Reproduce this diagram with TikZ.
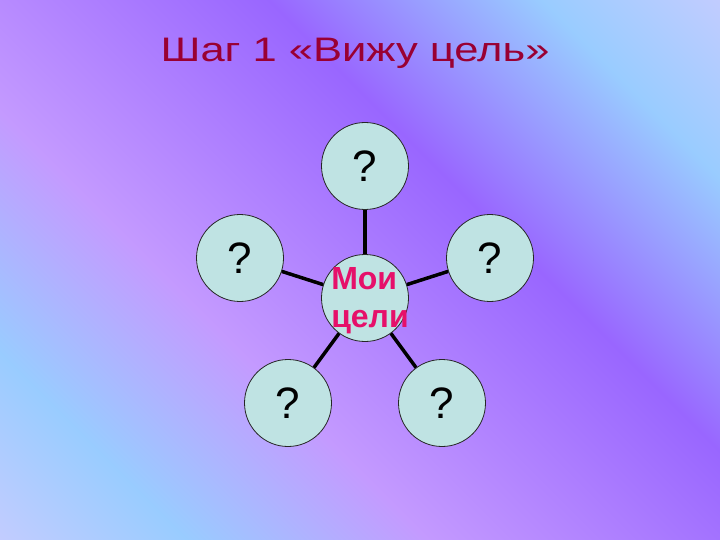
\documentclass[tikz,border=0pt]{standalone}
\usepackage{fontspec}
\setmainfont{Liberation Sans}
\usepackage{graphicx}

\definecolor{bgpale}{HTML}{C8CCFF}
\definecolor{bgblue}{HTML}{99CCFF}
\definecolor{bgpink}{HTML}{C49AFF}
\definecolor{bgviolet}{HTML}{9966FF}
\definecolor{titlered}{HTML}{990033}
\definecolor{goalpink}{HTML}{E6106A}
\definecolor{goalfill}{HTML}{BFE3E3}

\begin{document}
\begin{tikzpicture}[x=1pt, y=-1pt,
	goal/.style={draw=black!85, line width=0.8pt, fill=goalfill, circle, minimum size=87pt, inner sep=0pt},
	ask/.style={goal, font=\fontsize{44}{44}\selectfont},
	link/.style={line width=3.5pt, draw=black}]

	\useasboundingbox (0,0) rectangle (720,540);

	% background
	\begin{scope}
		\clip (0,0) rectangle (720,540);
		\begin{scope}[transform canvas={rotate around={45:(0,0)}}]
			\shade[left color=bgpale, right color=bgblue] (-400,-20) rectangle (-249,900);
			\shade[left color=bgblue, right color=bgpink] (-250,-20) rectangle (-79,900);
			\shade[left color=bgpink, right color=bgviolet] (-80,-20) rectangle (191,900);
			\shade[left color=bgviolet, right color=bgblue] (190,-20) rectangle (383,900);
			\shade[left color=bgblue, right color=bgpale] (382,-20) rectangle (530,900);
		\end{scope}
	\end{scope}

	\node[anchor=base, text=titlered, font=\fontsize{34}{40}\selectfont] (title) at (355,62) {\scalebox{1.28}[1]{Шаг 1 «Вижу цель»}};

	\node[goal] (ctr) at (365,298) {};
	\node[text=goalpink, font=\bfseries\fontsize{32}{38}\selectfont, align=left, text depth=0pt, inner sep=0pt] (ctrtext) at ([xshift=5pt, yshift=1pt]ctr) {Мои\\цели};
	\node[ask] (top) at (365,166) {?};
	\node[ask] (lft) at (240,258) {?};
	\node[ask] (rgt) at (490,258) {?};
	\node[ask] (bl) at (288,403) {?};
	\node[ask] (br) at (442,403) {?};

	\draw[link] (ctr) -- (top);
	\draw[link] (ctr) -- (lft);
	\draw[link] (ctr) -- (rgt);
	\draw[link] (ctr) -- (bl);
	\draw[link] (ctr) -- (br);
\end{tikzpicture}
\end{document}
